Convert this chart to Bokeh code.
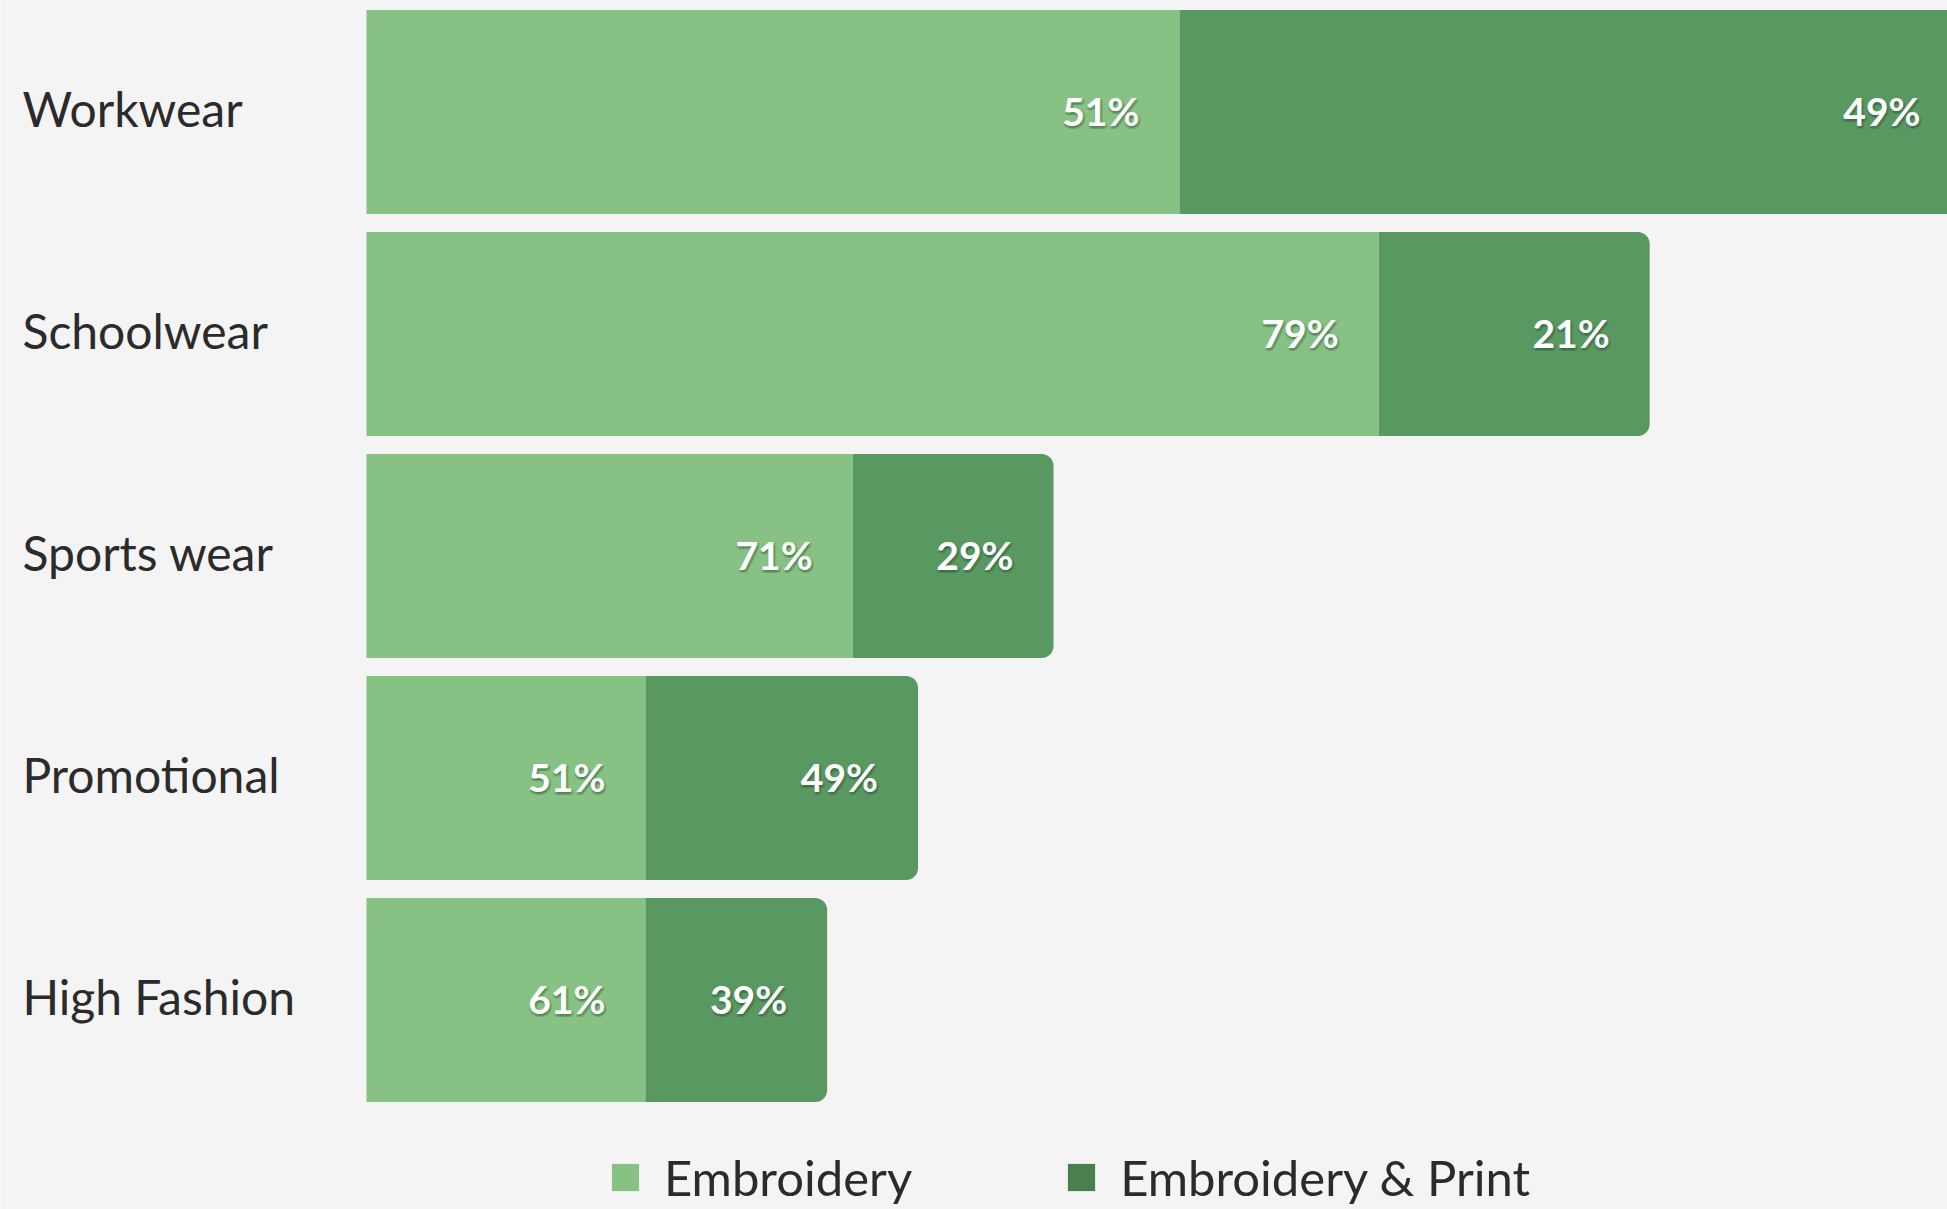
from bokeh.plotting import figure
from bokeh.models import ColumnDataSource, Range1d, Legend, LegendItem, CDSView, BooleanFilter
from bokeh.core.properties import value
from bokeh.embed import file_html
from bokeh.resources import INLINE

# ---- data ----
categories = ["Workwear", "Schoolwear", "Sports wear", "Promotional", "High Fashion"]
embroidery = [51.0, 63.5, 30.5, 17.5, 17.5]
embroidery_print = [49.0, 17.0, 12.6, 17.1, 11.4]
embroidery_pct = ["51%", "79%", "71%", "51%", "61%"]
embroidery_print_pct = ["49%", "21%", "29%", "49%", "39%"]
series_names = ["Embroidery", "Embroidery & Print"]

# ---- style ----
BG = "#f4f4f4"
LIGHT = "#87c284"
DARK = "#5a9862"
DARK_LEGEND = "#4a7f50"
TEXT = "#2b2b2b"
FONT = "Lato"

W, H = 1947, 1209
PPU_X = 15.94          # px per data unit
X0 = -366 / PPU_X
X1 = X0 + W / PPU_X
PITCH = 222.0
n = len(categories)
Y_END = (n - 1) + 111.5 / PITCH
Y_START = Y_END - H / PITCH

ypos = [n - 1 - i for i in range(n)]
ends = [a + b for a, b in zip(embroidery, embroidery_print)]
label_x = [X0 + 22 / PPU_X] * n

src = ColumnDataSource(dict(
    y=ypos, cat=categories, e=embroidery, ep=embroidery_print, end=ends,
    epct=embroidery_pct, eppct=embroidery_print_pct, lx=label_x,
))

p = figure(width=W, height=H, output_backend="svg", toolbar_location=None,
           x_range=Range1d(X0, X1), y_range=Range1d(Y_START, Y_END),
           min_border=0, min_border_left=0, min_border_right=0,
           min_border_top=0, min_border_bottom=0)
p.background_fill_color = BG
p.border_fill_color = BG
p.outline_line_color = None
p.axis.visible = False
p.grid.visible = False

p.hbar(y="y", left=0, right="e", height=0.92, source=src,
       fill_color=LIGHT, line_color=None)

# bars running past the right edge keep square ends; the others get rounded ends
inside = [e <= X1 for e in ends]
outside = [not b for b in inside]
p.hbar(y="y", left="e", right="end", height=0.92, source=src,
       view=CDSView(filter=BooleanFilter(inside)),
       fill_color=DARK, line_color=None, border_radius=(0, 12, 12, 0))
p.hbar(y="y", left="e", right="end", height=0.92, source=src,
       view=CDSView(filter=BooleanFilter(outside)),
       fill_color=DARK, line_color=None)

# category labels
p.text(x="lx", y="y", text="cat", source=src, text_font=value(FONT),
       text_font_size="48px", text_color=TEXT, text_align="left",
       text_baseline="middle", y_offset=-4)

# percentage labels with soft shadow
for dx, dy, a in [(2, 3, 0.2), (0, 2, 0.2), (3, 1, 0.14), (-1, 3, 0.12)]:
    for xcol, tcol in [("e", "epct"), ("end", "eppct")]:
        p.text(x=xcol, y="y", text=tcol, source=src, text_font=value(FONT),
               text_font_style="bold", text_font_size="39px", text_color="#1f4a22",
               text_alpha=a, text_align="right", text_baseline="middle",
               x_offset=-40 + dx, y_offset=dy - 1)
for xcol, tcol in [("e", "epct"), ("end", "eppct")]:
    p.text(x=xcol, y="y", text=tcol, source=src, text_font=value(FONT),
           text_font_style="bold", text_font_size="39px", text_color="white",
           text_align="right", text_baseline="middle", x_offset=-40, y_offset=-1)

# legend (zero-width helper bars so the legend swatches get their colours)
leg_src = ColumnDataSource(dict(y=[ypos[0]], l=[0], r=[0]))
r1 = p.hbar(y="y", left="l", right="r", height=0.92, source=leg_src,
            fill_color=LIGHT, line_color=None)
r2 = p.hbar(y="y", left="l", right="r", height=0.92, source=leg_src,
            fill_color=DARK_LEGEND, line_color=None)
legend = Legend(items=[LegendItem(label=series_names[0], renderers=[r1], index=0),
                       LegendItem(label=series_names[1], renderers=[r2], index=0)],
                orientation="horizontal", location=(608, 3),
                glyph_width=34, glyph_height=34, label_standoff=22,
                spacing=152, padding=0, margin=0,
                label_text_font=FONT, label_text_font_size="49px",
                label_text_color=TEXT, border_line_alpha=0,
                background_fill_alpha=0, label_height=56)
p.add_layout(legend, "center")

open("out.html", "w").write(file_html(p, INLINE))
